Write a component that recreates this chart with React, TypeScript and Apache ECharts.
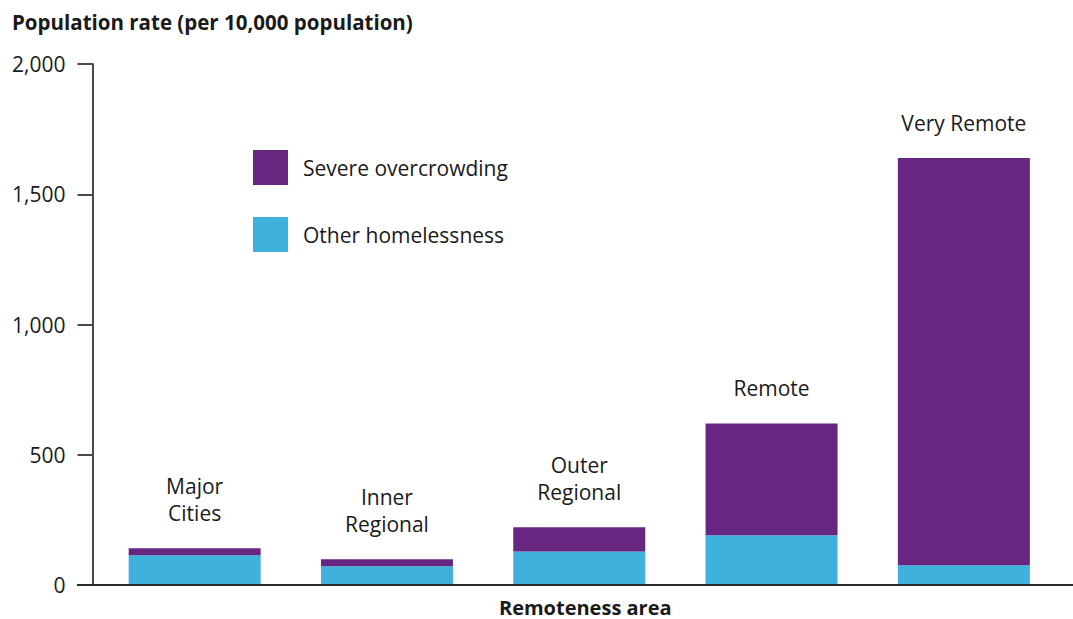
import React, { useEffect, useRef } from "react";
import * as echarts from "echarts";

const categories = ["Major\nCities", "Inner\nRegional", "Outer\nRegional", "Remote", "Very Remote"];
const otherHomelessness = [114, 72, 129, 191, 76];
const severeOvercrowding = [27, 27, 93, 429, 1563];
const yTicks = [0, 500, 1000, 1500, 2000];
const seriesNames = ["Severe overcrowding", "Other homelessness"];

const PURPLE = "#67267f";
const BLUE = "#3eb2dd";
const FONT = "'Open Sans', 'Noto Sans', sans-serif";

export default function App() {
  const ref = useRef<HTMLDivElement>(null);
  useEffect(() => {
    if (!ref.current) return;
    const chart = echarts.init(ref.current, null, { renderer: "svg" });
    chart.setOption({
      animation: false,
      textStyle: { fontFamily: FONT, color: "#1a1a1a" },
      title: {
        text: "Population rate (per 10,000 population)",
        left: 7,
        top: 6.5,
        textStyle: { fontFamily: FONT, fontSize: 20.5, fontWeight: "bold", color: "#1a1a1a" },
      },
      legend: {
        data: seriesNames,
        orient: "vertical",
        left: 253,
        top: 150,
        padding: 0,
        itemWidth: 35,
        itemHeight: 35,
        itemGap: 32,
        icon: "rect",
        selectedMode: false,
        textStyle: { fontFamily: FONT, fontSize: 21, color: "#1a1a1a", padding: [0, 0, 0, 10] },
      },
      grid: { left: 98.5, right: 13, top: 64, bottom: 34, outerBoundsMode: "none" },
      xAxis: {
        type: "category",
        data: categories,
        axisLine: { show: false },
        axisTick: { show: false },
        axisLabel: { show: false },
        name: "Remoteness area",
        nameLocation: "middle",
        nameGap: 12,
        nameTextStyle: {
          fontFamily: FONT,
          fontSize: 20,
          lineHeight: 20,
          fontWeight: "bold",
          color: "#1a1a1a",
          padding: [0, 0, 0, 12],
        },
      },
      yAxis: {
        type: "value",
        min: yTicks[0],
        max: yTicks[yTicks.length - 1],
        interval: 500,
        offset: 6,
        splitLine: { show: false },
        axisLine: { show: true, lineStyle: { color: "#4a4a4a", width: 2 } },
        axisTick: { show: true, length: 15, lineStyle: { color: "#4a4a4a", width: 2 } },
        axisLabel: {
          margin: 27,
          fontFamily: FONT,
          fontSize: 21,
          color: "#1a1a1a",
          formatter: (v: number) => v.toLocaleString("en-US"),
        },
      },
      graphic: [
        {
          type: "line",
          shape: { x1: 77, y1: 585, x2: 1073, y2: 585 },
          style: { stroke: "#2a2a2a", lineWidth: 2 },
          z: 10,
        },
      ],
      series: [
        {
          name: seriesNames[1],
          type: "bar",
          stack: "total",
          barWidth: 132,
          data: otherHomelessness,
          itemStyle: { color: BLUE },
        },
        {
          name: seriesNames[0],
          type: "bar",
          stack: "total",
          barWidth: 132,
          data: severeOvercrowding,
          itemStyle: { color: PURPLE },
          label: {
            show: true,
            position: "top",
            distance: 22,
            formatter: (p: any) => p.name,
            fontFamily: FONT,
            fontSize: 21,
            lineHeight: 27,
            color: "#1a1a1a",
            align: "center",
          },
        },
      ],
    });
    return () => chart.dispose();
  }, []);
  return <div ref={ref} style={{ width: 1073, height: 619, position: "absolute", left: 0, top: 0 }} />;
}
